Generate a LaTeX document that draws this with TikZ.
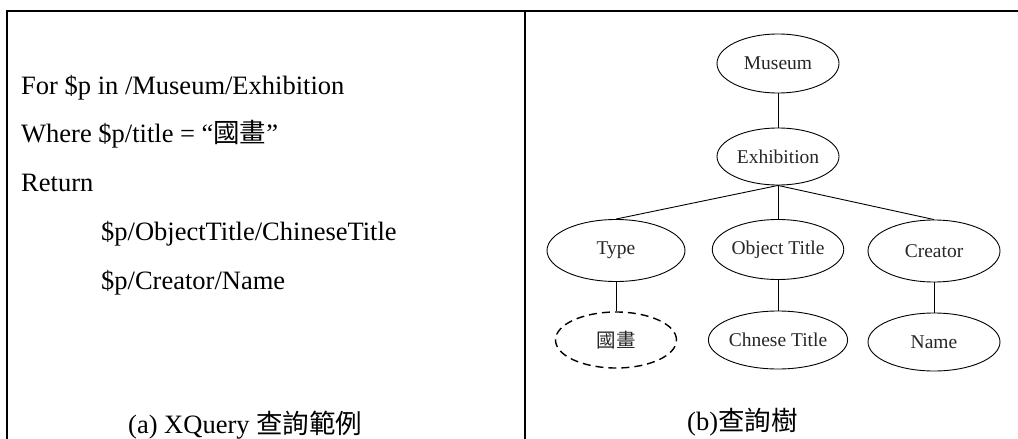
\documentclass[tikz,border=0pt]{standalone}
\usepackage{fontspec}
\setmainfont{Liberation Serif}
\newfontfamily\cjk{Noto Sans CJK TC}
\usetikzlibrary{shapes.geometric}
\begin{document}
\begin{tikzpicture}[x=1pt,y=-1pt,
  frame/.style={line width=2pt, line cap=rect},
  qtext/.style={anchor=base west, inner sep=0pt, font=\fontsize{26.5}{30}\selectfont},
  captext/.style={anchor=base west, inner sep=0pt, font=\fontsize{26.5}{30}\selectfont},
  tnode/.style={ellipse, draw, line width=0.9pt, inner sep=0pt, font=\fontsize{19.5}{22}\selectfont, text=black!85},
  edge/.style={line width=0.9pt}]
\useasboundingbox (0,0) rectangle (1018,439);
% frame
\coordinate (tl) at (7,11);
\coordinate (tr) at (1018,11);
\coordinate (bl) at (7,439);
\coordinate (mt) at (524.5,11);
\coordinate (mb) at (524.5,439);
\draw[frame] (bl) -- (tl) -- (tr);
\draw[frame] (mt) -- (mb);
% query text
\node[qtext] (q1) at (21,94.6) {For \$p in /Museum/Exhibition};
\node[qtext] (q2) at (21,142.5) {Where \$p/title = “{\cjk 國畫}”};
\node[qtext] (q3) at (21,191.5) {Return};
\node[qtext] (q4) at (101,240.5) {\$p/ObjectTitle/ChineseTitle};
\node[qtext] (q5) at (101,289.5) {\$p/Creator/Name};
\node[captext] (ca) at (128,433) {(a) XQuery {\cjk 查詢範例}};
% tree
\node[tnode, minimum width=122pt, minimum height=59pt] (mu) at (778,63.5) {Museum};
\node[tnode, minimum width=122pt, minimum height=57pt] (ex) at (778,156.5) {Exhibition};
\node[tnode, minimum width=138pt, minimum height=62pt] (ty) at (616,250.5) {Type};
\node[tnode, minimum width=128pt, minimum height=60pt] (ot) at (778,249.5) {Object Title};
\node[tnode, minimum width=132pt, minimum height=62pt] (cr) at (934,251) {Creator};
\node[tnode, dashed, dash pattern=on 8pt off 5pt, line width=1.4pt, minimum width=121pt, minimum height=56pt] (gh) at (616,340) {\cjk 國畫};
\node[tnode, minimum width=131pt, minimum height=58pt] (ct) at (778,340) {Chnese Title};
\node[tnode, minimum width=132pt, minimum height=58pt] (nm) at (934,342) {Name};
\draw[edge] (mu.south) -- (ex.north);
\draw[edge] (ex.south) -- (ty.north);
\draw[edge] (ex.south) -- (ot.north);
\draw[edge] (ex.south) -- (cr.north);
\draw[edge] (ty.south) -- (gh.north);
\draw[edge] (ot.south) -- (ct.north);
\draw[edge] (cr.south) -- (nm.north);
\node[captext] (cb) at (687,430) {(b){\cjk 查詢樹}};
\end{tikzpicture}
\end{document}
